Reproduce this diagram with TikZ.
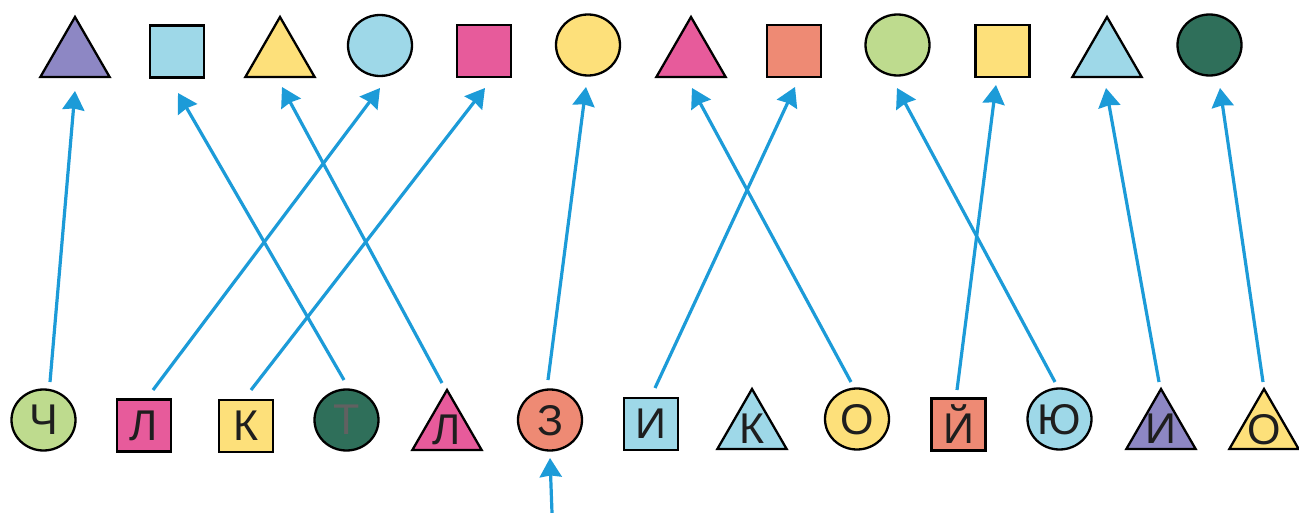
\documentclass[tikz,border=0pt]{standalone}
\usepackage{fontspec}
\setmainfont{Liberation Sans}
\usetikzlibrary{shapes.geometric,arrows.meta,calc}
\definecolor{cPurple}{HTML}{8D87C4}
\definecolor{cBlue}{HTML}{9ED8E8}
\definecolor{cYellow}{HTML}{FDE07A}
\definecolor{cPink}{HTML}{E75B9B}
\definecolor{cSalmon}{HTML}{EE8A74}
\definecolor{cGreen}{HTML}{BEDB8E}
\definecolor{cDark}{HTML}{2F6F5A}
\definecolor{cArrow}{HTML}{1C9BD8}
\definecolor{cText}{HTML}{1E1E1E}
\newcommand\ltr[1]{\smash{\makebox[0pt]{\raisebox{-.5\height}{#1}}}}
\tikzset{
  shp/.style={draw=black,line width=2.3pt,inner sep=0pt,outer sep=0pt,
    font=\fontsize{43}{43}\selectfont,text=cText},
  sq/.style={shp,rectangle,minimum width=54pt,minimum height=52pt},
  cir/.style={shp,ellipse,minimum width=64pt,minimum height=61pt},
  tri/.style={shp,regular polygon,regular polygon sides=3,minimum size=80pt},
  arr/.style={draw=cArrow,line width=3.2pt,
    arrows={-Stealth[length=19pt,width=22pt,inset=1.5pt]}}
}
\begin{document}
\begin{tikzpicture}[x=1pt,y=-1pt]
\useasboundingbox (0,0) rectangle (1299,513);
\fill[white] (0,0) rectangle (1299,513);

% top row
\node[tri,fill=cPurple] (t1) at (75,57) {};
\node[sq,fill=cBlue]    (t2) at (177,51.5) {};
\node[tri,fill=cYellow] (t3) at (280,57) {};
\node[cir,fill=cBlue]   (t4) at (380,45.5) {};
\node[sq,fill=cPink]    (t5) at (484,51) {};
\node[cir,fill=cYellow] (t6) at (588,45) {};
\node[tri,fill=cPink]   (t7) at (691,57) {};
\node[sq,fill=cSalmon]  (t8) at (794,51) {};
\node[cir,fill=cGreen]  (t9) at (897.5,45) {};
\node[sq,fill=cYellow]  (t10) at (1002.5,51) {};
\node[tri,fill=cBlue]   (t11) at (1107,57) {};
\node[cir,fill=cDark]   (t12) at (1209.5,45) {};

% bottom row
\node[cir,fill=cGreen]  (b1) at (43.5,420) {\ltr{Ч}};
\node[sq,fill=cPink]    (b2) at (144,425.5) {\ltr{Л}};
\node[sq,fill=cYellow]  (b3) at (246,426) {\ltr{К}};
\node[cir,fill=cDark,text=black!62] (b4) at (346.5,420) {\ltr{Т}};
\node[tri,fill=cPink]   (b5) at (447,430) {\ltr{Л}};
\node[cir,fill=cSalmon] (b6) at (550,420) {\ltr{З}};
\node[sq,fill=cBlue]    (b7) at (651,424) {\ltr{И}};
\node[tri,fill=cBlue]   (b8) at (752,429) {\ltr{К}};
\node[cir,fill=cYellow] (b9) at (857,419) {\ltr{О}};
\node[sq,fill=cSalmon]  (b10) at (958.5,424.5) {\ltr{Й}};
\node[cir,fill=cBlue]   (b11) at (1059.5,419) {\ltr{Ю}};
\node[tri,fill=cPurple] (b12) at (1161,429) {\ltr{И}};
\node[tri,fill=cYellow] (b13) at (1264,429) {\ltr{О}};
\coordinate (bot) at (552,513);

% arrows
\draw[arr] ($(b1)+(6.5,-38)$) -- ($(t1)+(0,34)$);
\draw[arr] ($(b2)+(9,-35.5)$) -- ($(t4)+(0,42.5)$);
\draw[arr] ($(b3)+(5,-36)$) -- ($(t5)+(1,37)$);
\draw[arr] ($(b4)+(-2.5,-40)$) -- ($(t2)+(1,41.5)$);
\draw[arr] ($(b5)+(-5,-47)$) -- ($(t3)+(2,30)$);
\draw[arr] ($(b6)+(-2,-40)$) -- ($(t6)+(-2,42)$);
\draw[arr] ($(b7)+(4,-36)$) -- ($(t8)+(1,36)$);
\draw[arr] ($(b9)+(-6,-37)$) -- ($(t7)+(1,31)$);
\draw[arr] ($(b10)+(-1.5,-34.5)$) -- ($(t10)+(-6.5,34)$);
\draw[arr] ($(b11)+(-4.5,-37)$) -- ($(t9)+(-0.5,43)$);
\draw[arr] ($(b12)+(-2,-47)$) -- ($(t11)+(-1,31)$);
\draw[arr] ($(b13)+(-1,-47)$) -- ($(t12)+(10.5,43)$);
\draw[arr] (bot) -- ($(b6)+(0,38)$);
\end{tikzpicture}
\end{document}
